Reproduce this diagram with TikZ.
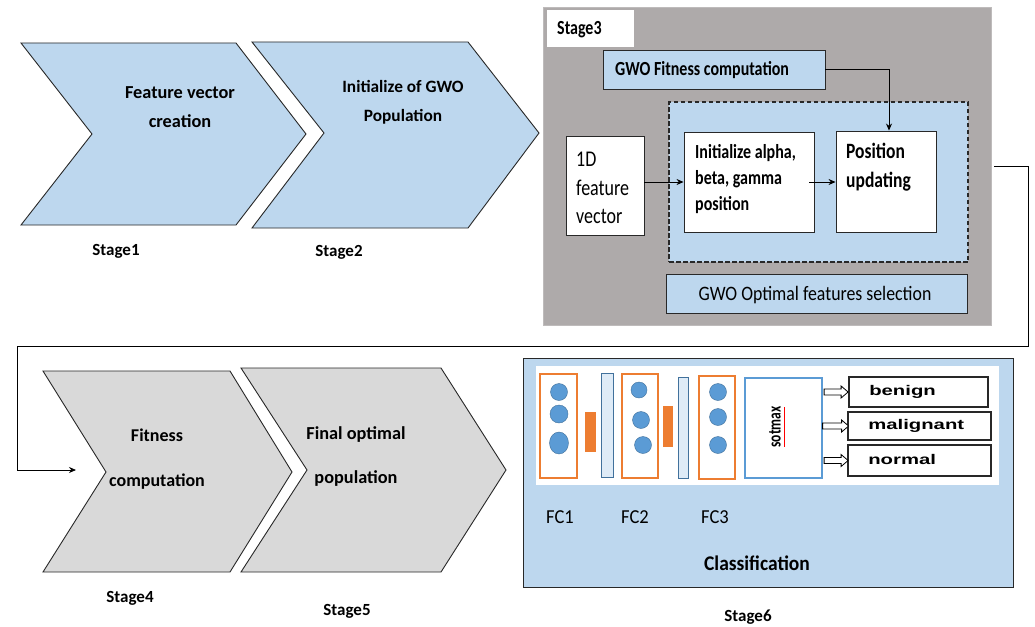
\documentclass[tikz,border=0pt]{standalone}
\usepackage{fontspec}
\setmainfont{Carlito}
\newfontfamily\widefont{Liberation Sans}
\usetikzlibrary{arrows.meta,fit}
\definecolor{lblue}{RGB}{189,215,238}
\definecolor{gchev}{RGB}{217,217,217}
\definecolor{gbox}{RGB}{174,170,170}
\definecolor{orng}{RGB}{237,125,49}
\definecolor{cblue}{RGB}{91,155,213}
\definecolor{cbord}{RGB}{65,113,156}
\definecolor{tallfill}{RGB}{222,235,247}
\definecolor{dk}{RGB}{40,40,40}
\begin{document}
\begin{tikzpicture}[x=1pt,y=-1pt,
  chev/.style={draw=dk,line width=0.9pt,line join=miter},
  bt/.style={font=\fontsize{16}{29}\selectfont\bfseries,inner sep=0pt},
  rt/.style={font=\fontsize{17}{28.5}\selectfont,inner sep=0pt},
  tall/.style={yscale=1.25},
  pbox/.style={inner sep=0pt,line width=0.9pt},
  arr/.style={draw=black,line width=0.8pt,-{Stealth[length=7pt,width=6pt]}},
  hollow/.style={draw=black,fill=white,line width=0.8pt,line join=miter},
  outtxt/.style={font=\fontsize{14}{16}\selectfont\widefont\bfseries,inner sep=0pt,xscale=1.45,anchor=west}]
\useasboundingbox (0,0) rectangle (1035,626);
\fill[white] (0,0) rectangle (1035,626);

% Stage 1 and 2 chevrons
\draw[chev,fill=lblue] (21,43) -- (236,43) -- (306,134) -- (236,225) -- (21,225) -- (92,134) -- cycle;
\draw[chev,fill=lblue] (252,42) -- (468,42) -- (539,133) -- (468,228) -- (252,228) -- (324,133) -- cycle;
\node[bt,align=center,font=\fontsize{18.3}{29}\selectfont\bfseries] (t1) at (180,107.5) {Feature vector\\creation};
\node[bt,align=center,font=\fontsize{17.3}{29}\selectfont\bfseries] (t2) at (403,102.5) {Initialize of GWO\\Population};
\node[bt,font=\fontsize{17}{20}\selectfont\bfseries] (st1) at (116,251) {Stage1};
\node[bt,font=\fontsize{17}{20}\selectfont\bfseries] (st2) at (339,252) {Stage2};

% Stage 3
\node[pbox,fit={(543,7)(991,325)},fill=gbox,draw=gbox!80!white] (s3) {};
\node[pbox,fit={(547,10)(634,47)},fill=white] (s3lab) {};
\node[bt,tall,anchor=west] (s3t) at (557,30) {Stage3};
\node[pbox,fit={(603,50)(825,89)},fill=lblue,draw=dk] (gf) {};
\node[bt,tall,anchor=west] (gft) at (615,70) {GWO Fitness computation};
\node[pbox,fit={(669,102)(968,262)},fill=lblue,draw=dk,dashed,line width=1.1pt,dash pattern=on 4.5pt off 2.5pt] (dsh) {};
\node[pbox,fit={(566,136)(644,235)},fill=white,draw=dk] (fv) {};
\node[rt,tall,align=left,anchor=west,font=\fontsize{18}{22.8}\selectfont] (fvt) at (576,188) {1D\\feature\\vector};
\node[pbox,fit={(684,132)(814,232)},fill=white,draw=dk] (ia) {};
\node[bt,tall,align=left,anchor=west,font=\fontsize{16}{20.8}\selectfont\bfseries] (iat) at (695,179) {Initialize alpha,\\beta, gamma\\position};
\node[pbox,fit={(836,131)(936,232)},fill=white,draw=dk] (pu) {};
\node[bt,tall,align=left,anchor=west,font=\fontsize{17.5}{23.2}\selectfont\bfseries] (put) at (846,167) {Position\\updating};
\node[pbox,fit={(666,274)(967,313)},fill=lblue,draw=dk] (os) {};
\node[rt,yscale=1.15,font=\fontsize{17.8}{20}\selectfont] (ost) at (815,295) {GWO Optimal features selection};
\draw[arr] (fv.east |- ia.west) -- (ia.west);
\draw[arr] ([xshift=-5pt]ia.east) -- (pu.west |- ia.east);
\draw[arr] (gf.east) -| ([xshift=3pt]pu.north);

% Loop connector to stage 4
\coordinate (c4in) at (76,470);
\draw[arr] ([xshift=3pt]s3.east) -| (1028,346) -| (17,470) -- (c4in);

% Stage 4 and 5 chevrons
\draw[chev,fill=gchev] (43,371) -- (230,371) -- (292,472) -- (230,572) -- (43,572) -- (106,472) -- cycle;
\draw[chev,fill=gchev] (241,368) -- (441,368) -- (506,470) -- (441,572) -- (241,572) -- (307,470) -- cycle;
\node[bt,align=center,font=\fontsize{18}{45}\selectfont\bfseries] (t4) at (157,459.5) {Fitness\\computation};
\node[bt,align=center,font=\fontsize{18.3}{44}\selectfont\bfseries] (t5) at (356,456) {Final optimal\\population};
\node[bt,font=\fontsize{17}{20}\selectfont\bfseries] (st4) at (130,598) {Stage4};
\node[bt,font=\fontsize{17}{20}\selectfont\bfseries] (st5) at (347,611) {Stage5};

% Stage 6
\node[pbox,fit={(523,358)(1013,587)},fill=lblue,draw=dk] (s6) {};
\node[pbox,fit={(536,366)(999,485)},fill=white] (wp) {};
% FC1
\node[pbox,fit={(540,374)(577,478)},draw=orng,line width=2pt,fill=white] (fc1) {};
\draw[fill=cblue,draw=cbord] (559,392) circle[radius=8.5];
\draw[fill=cblue,draw=cbord] (559,414) circle[radius=9];
\draw[fill=cblue,draw=cbord] (559,443) ellipse[x radius=9.5,y radius=11];
\fill[orng] (585,412) rectangle (596,452);
\draw[fill=tallfill,draw=cbord,line width=0.9pt] (601,373) rectangle (613,477);
% FC2
\node[pbox,fit={(622,374)(658,478)},draw=orng,line width=2pt,fill=white] (fc2) {};
\draw[fill=cblue,draw=cbord] (639,390) circle[radius=8];
\draw[fill=cblue,draw=cbord] (641,420) circle[radius=8.5];
\draw[fill=cblue,draw=cbord] (643,445) circle[radius=8.5];
\fill[orng] (663,406) rectangle (673,447);
\draw[fill=tallfill,draw=cbord,line width=0.9pt] (678,377) rectangle (688,478);
% FC3
\node[pbox,fit={(699,376)(735,479)},draw=orng,line width=2pt,fill=white] (fc3) {};
\draw[fill=cblue,draw=cbord] (718,392) circle[radius=8.5];
\draw[fill=cblue,draw=cbord] (718,417) circle[radius=8.5];
\draw[fill=cblue,draw=cbord] (718,445) circle[radius=8.5];
% softmax
\node[pbox,fit={(745,378)(822,478)},draw=cblue,line width=1.2pt,fill=white] (sm) {};
\node[bt,font=\fontsize{13.5}{15}\selectfont\bfseries,rotate=90] (smt) at (775,427) {\scalebox{1}[1.35]{sotmax}};
\draw[red,line width=1.1pt] (784.5,407) -- (784.5,447);
% outputs
\node[pbox,fit={(849,377)(988,407)},draw=dk,line width=1.2pt,fill=white] (ben) {};
\node[pbox,fit={(848,412)(991,440)},draw=dk,line width=1.2pt,fill=white] (mal) {};
\node[pbox,fit={(848,445)(991,476)},draw=dk,line width=1.2pt,fill=white] (nor) {};
\node[outtxt] (bent) at (869,392) {benign};
\node[outtxt] (malt) at (868,426) {malignant};
\node[outtxt] (nort) at (868,459) {normal};
\draw[hollow] ([xshift=1.5pt,yshift=3pt]sm.east |- ben.west) -- ++(17,0) -- ++(0,-3) -- ++(7,6) -- ++(-7,6) -- ++(0,-3) -- ++(-17,0) -- cycle;
\draw[hollow] ([xshift=0pt,yshift=3pt]sm.east |- mal.west) -- ++(19,0) -- ++(0,-3) -- ++(7,6) -- ++(-7,6) -- ++(0,-3) -- ++(-19,0) -- cycle;
\draw[hollow] ([xshift=1.5pt,yshift=3pt]sm.east |- nor.west) -- ++(17,0) -- ++(0,-3) -- ++(7,6) -- ++(-7,6) -- ++(0,-3) -- ++(-17,0) -- cycle;
% labels
\node[rt,yscale=1.07,font=\fontsize{18.5}{20}\selectfont] (l1) at (560,517) {FC1};
\node[rt,yscale=1.07,font=\fontsize{18.5}{20}\selectfont] (l2) at (635,517) {FC2};
\node[rt,yscale=1.07,font=\fontsize{18.5}{20}\selectfont] (l3) at (715,517) {FC3};
\node[bt,yscale=1.07,font=\fontsize{19.5}{22}\selectfont\bfseries] (cls) at (757,563) {Classification};
\node[bt,font=\fontsize{17}{20}\selectfont\bfseries] (st6) at (748,617) {Stage6};
\end{tikzpicture}
\end{document}
